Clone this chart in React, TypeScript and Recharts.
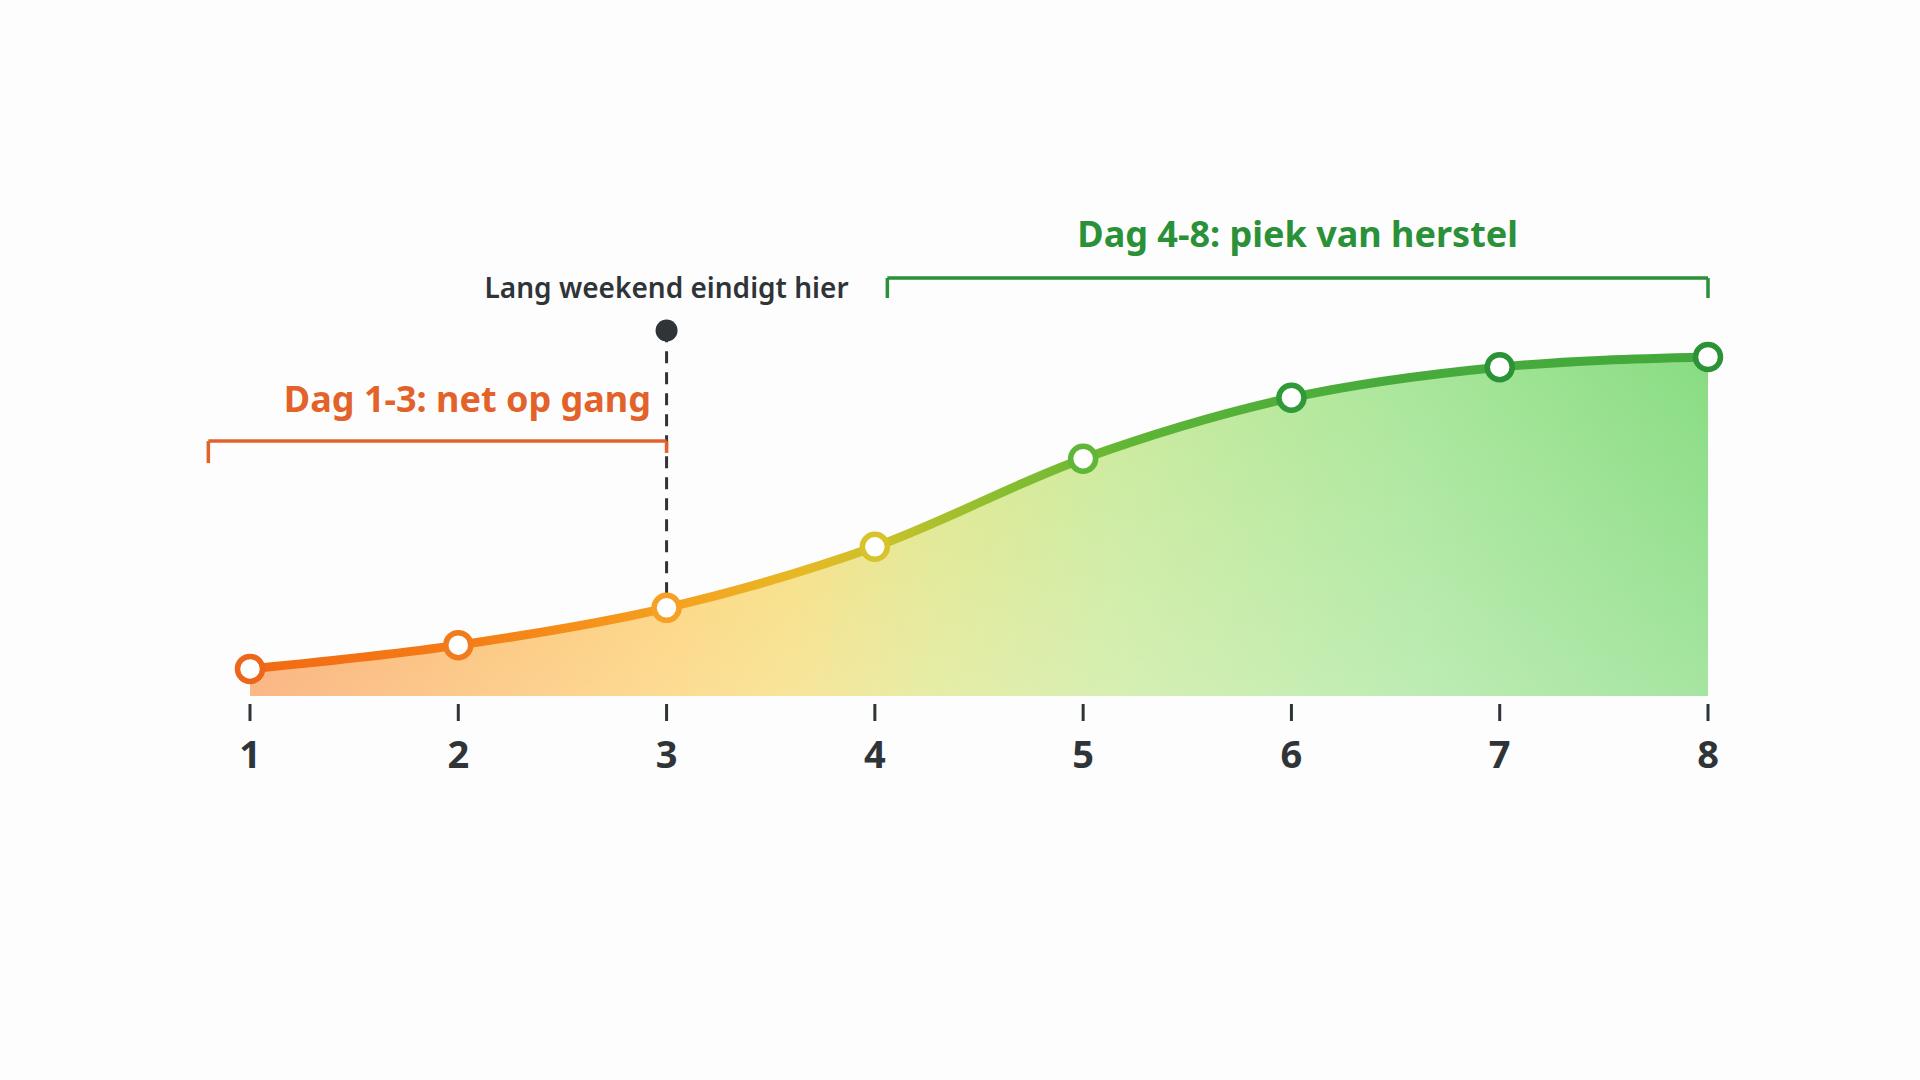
import { AreaChart, Area, XAxis, YAxis, ReferenceLine, ReferenceDot } from "recharts";

const days = [1, 2, 3, 4, 5, 6, 7, 8];
const recovery = [8, 15, 26, 44, 70, 88, 97, 100];
const dayTicks = [1, 2, 3, 4, 5, 6, 7, 8];

// annotation placement, in chart units
const weekendEndDay = 3;
const weekendMarkerLevel = 107.8;
const earlyRange = [0.8, 3];
const earlyLevel = [75.2, 68.7, 71.7]; // bar, left foot, right foot
const peakRange = [4.06, 8];
const peakLevel = [123.3, 117.4];

const earlyText = "Dag 1-3: net op gang";
const peakText = "Dag 4-8: piek van herstel";
const weekendText = "Lang weekend eindigt hier";

const data = days.map((day, i) => ({ day, value: recovery[i] }));

const dotColors = ["#ec661c", "#f07c1e", "#f6a125", "#d9c32c", "#5fb637", "#2f9a37", "#2b9236", "#2b9236"];
const FONT = "'Noto Sans', 'Open Sans', sans-serif";
const ORANGE = "#e2622a";
const GREEN = "#2a9138";
const DARK = "#2f3438";

const renderDot = (props: any) => {
  const { cx, cy, index } = props;
  return (
    <circle key={`dot-${index}`} cx={cx} cy={cy} r={12.5} fill="#ffffff" stroke={dotColors[index]} strokeWidth={5.5} />
  );
};

const DayTick = (props: any) => {
  const { x, y, payload } = props;
  return (
    <g>
      <line x1={x} x2={x} y1={y + 8} y2={y + 25} stroke={DARK} strokeWidth={3} />
      <text x={x} y={y + 72} textAnchor="middle" fill={DARK} fontSize={38} fontWeight={700} fontFamily={FONT}>
        {payload.value}
      </text>
    </g>
  );
};

const Caption = (props: any) => {
  const { viewBox, caption, color, size, weight, shiftX = 0, shiftY = 0 } = props;
  if (!viewBox) return null;
  const cx = viewBox.x + (viewBox.width || 0) / 2;
  return (
    <text x={cx + shiftX} y={viewBox.y + shiftY} textAnchor="middle" fill={color} fontSize={size} fontWeight={weight} fontFamily={FONT}>
      {caption}
    </text>
  );
};

export default function App() {
  return (
    <div style={{ position: "absolute", left: 0, top: 0, width: 1920, height: 1080, background: "#fdfdfd" }}>
      <AreaChart width={1920} height={1080} data={data} margin={{ top: 357, right: 212, left: 250, bottom: 304 }}>
        <defs>
          <linearGradient id="fillX" x1="0" y1="0" x2="1" y2="0">
            <stop offset="0" stopColor="#f9a060" />
            <stop offset="0.15" stopColor="#fbba66" />
            <stop offset="0.29" stopColor="#fcd070" />
            <stop offset="0.37" stopColor="#f6dc78" />
            <stop offset="0.46" stopColor="#e0e688" />
            <stop offset="0.6" stopColor="#c8ea9a" />
            <stop offset="0.8" stopColor="#a8e69a" />
            <stop offset="1" stopColor="#88dc82" />
          </linearGradient>
          <linearGradient id="fadeY" x1="0" y1="0" x2="0" y2="1">
            <stop offset="0" stopColor="#ffffff" stopOpacity={0} />
            <stop offset="1" stopColor="#ffffff" stopOpacity={0.25} />
          </linearGradient>
          <linearGradient id="strokeX" x1="0" y1="0" x2="1" y2="0">
            <stop offset="0" stopColor="#f26a12" />
            <stop offset="0.15" stopColor="#f57d16" />
            <stop offset="0.29" stopColor="#f6a11e" />
            <stop offset="0.38" stopColor="#e6b926" />
            <stop offset="0.44" stopColor="#c4c22a" />
            <stop offset="0.52" stopColor="#86bd30" />
            <stop offset="0.62" stopColor="#5bb436" />
            <stop offset="0.78" stopColor="#47ab3c" />
            <stop offset="1" stopColor="#44a93c" />
          </linearGradient>
        </defs>
        <XAxis
          dataKey="day"
          type="number"
          domain={[1, 8]}
          ticks={dayTicks}
          axisLine={false}
          tickLine={false}
          tickSize={0}
          tickMargin={0}
          height={80}
          interval={0}
          tick={<DayTick />}
        />
        <YAxis hide domain={[0, 100]} />
        <Area
          type="monotone"
          dataKey="value"
          stroke="none"
          fill="url(#fillX)"
          fillOpacity={1}
          dot={false}
          activeDot={false}
          isAnimationActive={false}
        />
        <Area
          type="monotone"
          dataKey="value"
          stroke="none"
          fill="url(#fadeY)"
          fillOpacity={1}
          dot={false}
          activeDot={false}
          isAnimationActive={false}
        />
        <ReferenceLine
          ifOverflow="visible"
          segment={[
            { x: weekendEndDay, y: recovery[weekendEndDay - 1] + 4 },
            { x: weekendEndDay, y: weekendMarkerLevel },
          ]}
          stroke={DARK}
          strokeWidth={3}
          strokeDasharray="12 9"
        />
        <ReferenceLine
          ifOverflow="visible"
          segment={[
            { x: earlyRange[0], y: earlyLevel[0] },
            { x: earlyRange[1], y: earlyLevel[0] },
          ]}
          stroke={ORANGE}
          strokeWidth={3.5}
          label={<Caption caption={earlyText} color={ORANGE} size={36} weight={700} shiftX={30} shiftY={-29} />}
        />
        <ReferenceLine
          ifOverflow="visible"
          segment={[
            { x: earlyRange[0], y: earlyLevel[0] },
            { x: earlyRange[0], y: earlyLevel[1] },
          ]}
          stroke={ORANGE}
          strokeWidth={3.5}
        />
        <ReferenceLine
          ifOverflow="visible"
          segment={[
            { x: earlyRange[1], y: earlyLevel[0] },
            { x: earlyRange[1], y: earlyLevel[2] },
          ]}
          stroke={ORANGE}
          strokeWidth={3.5}
        />
        <ReferenceLine
          ifOverflow="visible"
          segment={[
            { x: peakRange[0], y: peakLevel[0] },
            { x: peakRange[1], y: peakLevel[0] },
          ]}
          stroke={GREEN}
          strokeWidth={3.5}
          label={<Caption caption={peakText} color={GREEN} size={36} weight={700} shiftY={-31} />}
        />
        <ReferenceLine
          ifOverflow="visible"
          segment={[
            { x: peakRange[0], y: peakLevel[0] },
            { x: peakRange[0], y: peakLevel[1] },
          ]}
          stroke={GREEN}
          strokeWidth={3.5}
        />
        <ReferenceLine
          ifOverflow="visible"
          segment={[
            { x: peakRange[1], y: peakLevel[0] },
            { x: peakRange[1], y: peakLevel[1] },
          ]}
          stroke={GREEN}
          strokeWidth={3.5}
        />
        <ReferenceDot
          ifOverflow="visible"
          x={weekendEndDay}
          y={weekendMarkerLevel}
          r={11}
          fill={DARK}
          stroke="none"
          label={<Caption caption={weekendText} color={DARK} size={28} weight={600} shiftX={0} shiftY={-22} />}
        />
        <Area
          type="monotone"
          dataKey="value"
          stroke="url(#strokeX)"
          strokeWidth={9}
          fill="none"
          dot={renderDot}
          activeDot={false}
          isAnimationActive={false}
        />
      </AreaChart>
    </div>
  );
}
